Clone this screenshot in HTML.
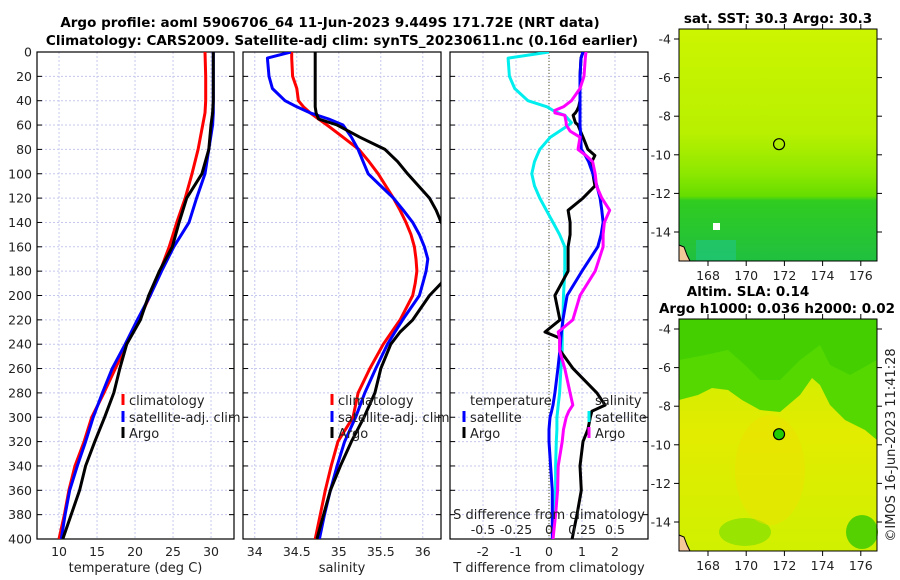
<!DOCTYPE html>
<html><head><meta charset="utf-8">
<style>
body{margin:0;background:#fff;}
svg{display:block;font-family:"DejaVu Sans","Liberation Sans",sans-serif;}
</style></head>
<body>
<svg id="c" width="900" height="580" viewBox="0 0 900 580">
<defs>
<clipPath id="cp1"><rect x="37" y="52" width="197" height="487"/></clipPath>
<clipPath id="cp2"><rect x="243" y="52" width="198" height="487"/></clipPath>
<clipPath id="cp3"><rect x="450" y="52" width="198" height="487"/></clipPath>
<linearGradient id="sstg" x1="0" y1="0" x2="0" y2="1">
<stop offset="0" stop-color="#ccf500"/><stop offset="0.45" stop-color="#b8f000"/>
<stop offset="0.62" stop-color="#8ee800"/><stop offset="0.72" stop-color="#66dd00"/>
<stop offset="0.74" stop-color="#30cc20"/><stop offset="1" stop-color="#20c040"/>
</linearGradient>
<linearGradient id="slag" x1="0" y1="0" x2="0" y2="1">
<stop offset="0" stop-color="#c8ee00"/><stop offset="0.5" stop-color="#e2ec00"/><stop offset="1" stop-color="#d0f000"/>
</linearGradient>
</defs>
<g id="g"></g>
</svg>
<script>
// ---- data ----
const tDepth=[0,20,40,50,60,80,100,120,140,160,180,200,220,240,260,280,300,320,340,360,380,400];
const tClim=[29.2,29.3,29.3,29.2,28.9,28.3,27.5,26.6,25.5,24.5,23.3,22.0,20.5,18.9,17.4,15.9,14.3,13.3,12.1,11.3,10.7,10.0];
const tSat=[30.3,30.3,30.3,30.3,30.2,29.7,29.2,28.1,27.1,25.1,23.5,22.0,20.3,18.7,17.0,15.7,14.5,13.5,12.4,11.4,10.8,10.3];
const tArgo=[30.3,30.3,30.3,30.2,30.0,29.7,28.8,26.8,25.8,24.9,23.2,21.8,20.7,18.9,18.0,17.2,16.0,14.7,13.5,12.7,11.6,10.5];
const sDepth=[0,5,20,30,40,45,50,55,60,70,80,90,100,120,130,140,150,160,170,180,190,200,220,230,240,260,280,300,320,340,360,380,400];
const sClim=[34.44,34.44,34.45,34.5,34.52,34.58,34.66,34.76,34.86,35.05,35.24,35.36,35.47,35.65,35.73,35.8,35.86,35.9,35.92,35.93,35.91,35.88,35.73,35.63,35.53,35.37,35.23,35.17,34.99,34.91,34.84,34.78,34.72];
const sSat=[34.43,34.15,34.17,34.21,34.36,34.5,34.66,34.88,35.05,35.15,35.23,35.29,35.35,35.65,35.77,35.88,35.96,36.02,36.06,36.04,36.0,35.96,35.76,35.67,35.58,35.44,35.31,35.2,35.07,34.98,34.9,34.83,34.77];
const sArgo=[34.72,34.72,34.72,34.72,34.72,34.72,34.73,34.76,34.98,35.25,35.55,35.7,35.82,36.08,36.16,36.22,36.3,36.35,36.35,36.3,36.22,36.08,35.88,35.73,35.62,35.5,35.43,35.3,35.15,35.02,34.9,34.82,34.74];
const dDepth=[0,5,20,30,40,45,48,50,52,58,60,65,70,80,85,90,100,110,120,130,140,150,160,180,200,220,230,235,245,260,280,290,295,300,310,320,340,360,380,400];
const dTSat=[1.03,0.97,0.94,0.94,0.94,0.94,0.94,0.94,0.94,0.94,0.94,0.95,0.96,0.98,1.1,1.2,1.33,1.45,1.55,1.6,1.64,1.58,1.48,1.0,0.55,0.42,0.38,0.36,0.33,0.27,0.18,0.12,0.08,0.03,0.0,0.0,0.05,0.1,0.1,0.1];
const dTArgo=[1.03,0.97,0.94,0.94,0.94,0.9,0.85,0.8,0.73,0.8,0.88,0.95,1.03,1.18,1.39,1.3,1.33,1.39,1.03,0.58,0.64,0.64,0.58,0.58,0.18,0.33,-0.12,0.33,0.33,0.73,1.45,1.7,1.3,1.25,1.18,1.03,0.94,0.98,0.85,0.7];
const dSSat=[0,-0.31,-0.3,-0.26,-0.16,-0.015,0.03,0.07,0.12,0.17,0.15,0.08,0.01,-0.07,-0.09,-0.11,-0.13,-0.11,-0.07,-0.02,0.03,0.08,0.12,0.12,0.11,0.105,0.1,0.1,0.1,0.09,0.08,0.07,0.065,0.06,0.06,0.055,0.05,0.05,0.04,0.03];
const dSArgo=[0.28,0.275,0.265,0.235,0.17,0.11,0.045,0.045,0.12,0.13,0.13,0.16,0.235,0.22,0.28,0.33,0.35,0.36,0.4,0.46,0.42,0.41,0.41,0.35,0.235,0.18,0.07,0.08,0.08,0.12,0.16,0.18,0.15,0.13,0.11,0.10,0.07,0.065,0.05,0.03];
const depthTicks=[0,20,40,60,80,100,120,140,160,180,200,220,240,260,280,300,320,340,360,380,400];
const tTicks=[10,15,20,25,30];
const sTicks=[34,34.5,35,35.5,36];
const dTicks=[-2,-1,0,1,2];
const dSTicks=[-0.5,-0.25,0,0.25,0.5];
const latTicks=[-4,-6,-8,-10,-12,-14];
const lonTicks=[168,170,172,174,176];
const argoLon=171.72, argoLat=-9.449;

// ---- axes ----
const Y0=52,Y1=539;
const yD=d=>Y0+d*(Y1-Y0)/400;
const xT=t=>37+(t-7.1)*7.6;
const xS=s=>243+(s-33.86)*84;
const xD=d=>549+d*33;
const xDS=d=>549+d*132;
const mX=l=>708+(l-168)*19.1;
const m1Y=l=>39+(-4-l)*19.3;
const m2Y=l=>329+(-4-l)*19.3;

const NS='http://www.w3.org/2000/svg';
const G=document.getElementById('g');
function el(tag,attrs,parent,text){const e=document.createElementNS(NS,tag);for(const k in attrs)e.setAttribute(k,attrs[k]);if(text!==undefined)e.textContent=text;(parent||G).appendChild(e);return e;}

function panel(name,x0,x1,clip,ticks,xf,tickLab,title,showY){
  const grp=el('g',{});
  
  
  depthTicks.forEach(d=>{
    const l=el('line',{x1:x0,x2:x1,y1:yD(d),y2:yD(d),stroke:'#c4c8ec','stroke-width':1,'stroke-dasharray':'2,2'},grp);
    
    el('line',{x1:x0,x2:x0+5,y1:yD(d),y2:yD(d),stroke:'#000'},grp);
    el('line',{x1:x1-5,x2:x1,y1:yD(d),y2:yD(d),stroke:'#000'},grp);
    if(showY){const t=el('text',{x:x0-5,y:yD(d)+4.5,'text-anchor':'end','font-size':12.5,fill:'#222'},grp,String(d));
      }
  });
  ticks.forEach((v,i)=>{
    const l=el('line',{x1:xf(v),x2:xf(v),y1:Y0,y2:Y1,stroke:'#c4c8ec','stroke-width':1,'stroke-dasharray':'2,2'},grp);
    
    const t=el('text',{x:xf(v),y:556,'text-anchor':'middle','font-size':12.5,fill:'#222'},grp,tickLab[i]);
    
  });
  const f=el('rect',{x:x0,y:Y0,width:x1-x0,height:Y1-Y0,fill:'none',stroke:'#000','stroke-width':1.2},grp);
  
  const tt=el('text',{x:(x0+x1)/2,y:572,'text-anchor':'middle','font-size':13,fill:'#222'},grp,title);
  
  return grp;
}
function line(grp,xs,ds,xf,color,clip,name){
  const p=xs.map((v,i)=>(i?'L':'M')+xf(v).toFixed(1)+','+yD(ds[i]).toFixed(1)).join('');
  const e=el('path',{d:p,fill:'none',stroke:color,'stroke-width':3,'stroke-linejoin':'round','clip-path':'url(#'+clip+')'},grp);
  
}
function legend(grp,x,y,color,label){
  const m=el('line',{x1:x,x2:x,y1:y-7,y2:y+4,stroke:color,'stroke-width':3},grp);
  
  const t=el('text',{x:x+6,y:y+4,'font-size':13,fill:'#222'},grp,label);
  
}

const p1=panel('temperature-panel',37,234,'cp1',tTicks,xT,tTicks.map(String),'temperature (deg C)',true);
line(p1,tClim,tDepth,xT,'#ff0000','cp1','temperature-climatology-line');
line(p1,tSat,tDepth,xT,'#0000ff','cp1','temperature-satellite-line');
line(p1,tArgo,tDepth,xT,'#000000','cp1','temperature-argo-line');
legend(p1,123,401,'#ff0000','climatology');legend(p1,123,418,'#0000ff','satellite-adj. clim');legend(p1,123,434,'#000','Argo');

const p2=panel('salinity-panel',243,441,'cp2',sTicks,xS,sTicks.map(String),'salinity',false);
line(p2,sClim,sDepth,xS,'#ff0000','cp2','salinity-climatology-line');
line(p2,sSat,sDepth,xS,'#0000ff','cp2','salinity-satellite-line');
line(p2,sArgo,sDepth,xS,'#000000','cp2','salinity-argo-line');
legend(p2,332,401,'#ff0000','climatology');legend(p2,332,418,'#0000ff','satellite-adj. clim');legend(p2,332,434,'#000','Argo');

const p3=panel('difference-panel',450,648,'cp3',dTicks,xD,dTicks.map(String),'T difference from climatology',false);
const z=el('line',{x1:xD(0),x2:xD(0),y1:Y0,y2:Y1,stroke:'#555522','stroke-width':1,'stroke-dasharray':'1,2'},p3);

line(p3,dSSat,dDepth,xDS,'#00eeee','cp3','salinity-diff-satellite-line');
line(p3,dTArgo,dDepth,xD,'#000000','cp3','temperature-diff-argo-line');
line(p3,dTSat,dDepth,xD,'#0000ff','cp3','temperature-diff-satellite-line');
line(p3,dSArgo,dDepth,xDS,'#ff00ff','cp3','salinity-diff-argo-line');
let t0=el('text',{x:470,y:405,'font-size':13,fill:'#222'},p3,'temperature');

t0=el('text',{x:595,y:405,'font-size':13,fill:'#222'},p3,'salinity');

legend(p3,464,418,'#0000ff','satellite');legend(p3,464,434,'#000','Argo');
legend(p3,589,418,'#00eeee','satellite');legend(p3,589,434,'#ff00ff','Argo');
t0=el('text',{x:549,y:519,'text-anchor':'middle','font-size':13,fill:'#222'},p3,'S difference from climatology');

dSTicks.forEach(v=>{const t=el('text',{x:xDS(v),y:534,'text-anchor':'middle','font-size':12.5,fill:'#222'},p3,String(v));
  });

// titles
t0=el('text',{x:330,y:27,'text-anchor':'middle','font-size':13.5,'font-weight':'bold'},G,'Argo profile: aoml 5906706_64 11-Jun-2023 9.449S 171.72E (NRT data)');

t0=el('text',{x:342,y:45,'text-anchor':'middle','font-size':13.5,'font-weight':'bold'},G,'Climatology: CARS2009. Satellite-adj clim: synTS_20230611.nc (0.16d earlier)');


// maps
function map(name,top,fillId){
  const grp=el('g',{});
  
  const bg=el('rect',{x:679,y:top,width:198,height:232,fill:'url(#'+fillId+')'},grp);
  
  return grp;
}
const m1=map('sst-map',29,'sstg');
let b=el('rect',{x:696,y:240,width:40,height:21,fill:'#20c8a0',opacity:0.45},m1);
b=el('rect',{x:713,y:223,width:7,height:7,fill:'#fff'},m1);
b=el('path',{d:'M679,245 L684,247 L687,255 L690,261 L679,261Z',fill:'#f5c89a',stroke:'#000'},m1);
const m2=map('sla-map',319,'slag');
b=el('path',{d:'M679,319 L877,319 L877,440 L865,430 L845,420 L830,405 L820,385 L812,378 L800,395 L780,412 L760,410 L742,400 L728,390 L712,388 L698,395 L679,400Z',fill:'#55d800'},m2);

b=el('path',{d:'M679,319 L877,319 L877,360 L850,375 L830,365 L820,345 L800,360 L780,380 L760,380 L745,365 L728,350 L705,355 L679,360Z',fill:'#33c800',opacity:0.5},m2);

b=el('ellipse',{cx:862,cy:532,rx:16,ry:17,fill:'#55d000'},m2);
b=el('ellipse',{cx:745,cy:532,rx:26,ry:14,fill:'#99e400'},m2);
b=el('ellipse',{cx:770,cy:470,rx:35,ry:55,fill:'#f0e000',opacity:0.45},m2);
b=el('path',{d:'M679,535 L684,537 L687,545 L690,551 L679,551Z',fill:'#f5c89a',stroke:'#000'},m2);

[[m1,m1Y,29,'none'],[m2,m2Y,319,'#22cc00']].forEach(([grp,yf,top,fc])=>{
  const f=el('rect',{x:679,y:top,width:198,height:232,fill:'none',stroke:'#000','stroke-width':1},grp);
  
  latTicks.forEach(v=>{
    el('line',{x1:674,x2:679,y1:yf(v),y2:yf(v),stroke:'#000'},grp);
    el('line',{x1:877,x2:882,y1:yf(v),y2:yf(v),stroke:'#000'},grp);
    const t=el('text',{x:671,y:yf(v)+4.5,'text-anchor':'end','font-size':12.5,fill:'#222'},grp,String(v));
    
  });
  lonTicks.forEach(v=>{
    el('line',{x1:mX(v),x2:mX(v),y1:top+232,y2:top+237,stroke:'#000'},grp);
    el('line',{x1:mX(v),x2:mX(v),y1:top-5,y2:top,stroke:'#000'},grp);
    const t=el('text',{x:mX(v),y:top+251,'text-anchor':'middle','font-size':12.5,fill:'#222'},grp,String(v));
    
  });
  const c=el('circle',{cx:mX(argoLon),cy:yf(argoLat),r:5.5,fill:fc,stroke:'#000','stroke-width':1.2},grp);
  
});
t0=el('text',{x:778,y:23,'text-anchor':'middle','font-size':13.5,'font-weight':'bold'},G,'sat. SST: 30.3 Argo: 30.3');

t0=el('text',{x:748,y:296,'text-anchor':'middle','font-size':13.5,'font-weight':'bold'},G,'Altim. SLA: 0.14');

t0=el('text',{x:777,y:313,'text-anchor':'middle','font-size':13.5,'font-weight':'bold'},G,'Argo h1000: 0.036 h2000: 0.02');

t0=el('text',{x:0,y:0,'text-anchor':'middle','font-size':13,fill:'#222',transform:'translate(895,445) rotate(-90)'},G,'©IMOS 16-Jun-2023 11:41:28');

</script>
</body></html>
